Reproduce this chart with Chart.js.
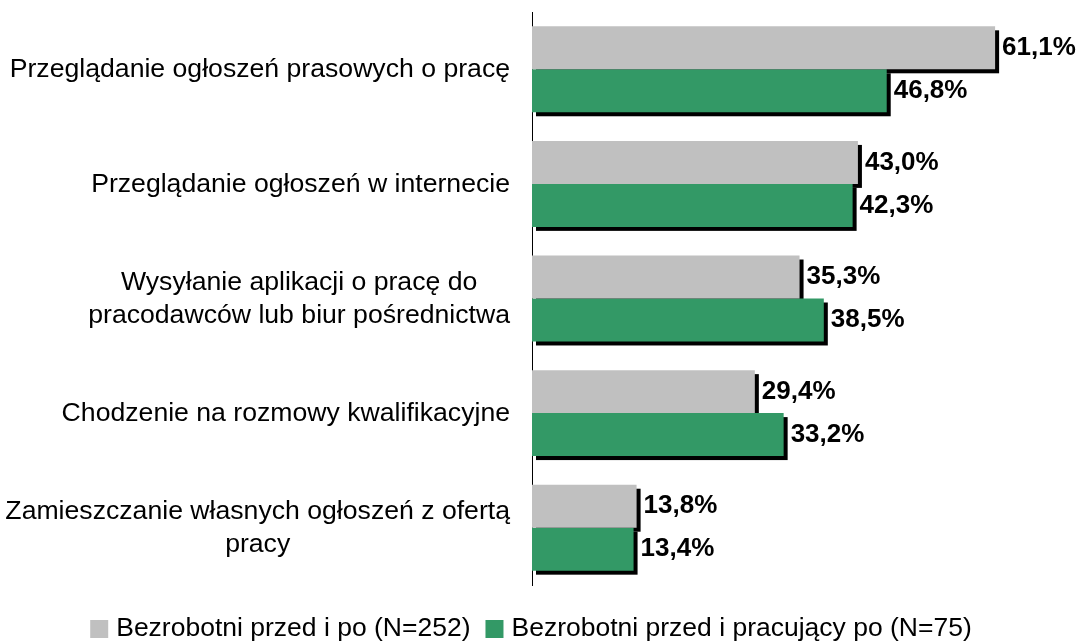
<!DOCTYPE html>
<html>
<head>
<meta charset="utf-8">
<script src="https://cdn.jsdelivr.net/npm/chart.js@4.4.1/dist/chart.umd.min.js"></script>
<style>
html,body{margin:0;padding:0;background:#fff;}
#wrap{width:1080px;height:643px;position:relative;}
</style>
</head>
<body>
<div id="wrap"><canvas id="c" width="1080" height="643"></canvas></div>
<script>
const categories = [
  ['Przeglądanie ogłoszeń prasowych o pracę'],
  ['Przeglądanie ogłoszeń w internecie'],
  ['Wysyłanie aplikacji o pracę do', 'pracodawców lub biur pośrednictwa'],
  ['Chodzenie na rozmowy kwalifikacyjne'],
  ['Zamieszczanie własnych ogłoszeń z ofertą', 'pracy']
];
const seriesNames = ['Bezrobotni przed i po (N=252)', 'Bezrobotni przed i pracujący po (N=75)'];
const unemployedBoth = [61.1, 43.0, 35.3, 29.4, 13.8];
const unemployedThenEmployed = [46.8, 42.3, 38.5, 33.2, 13.4];
const seriesColors = ['#c0c0c0', '#339966'];

const FONT = '"Liberation Sans", Arial, sans-serif';

// draw black drop shadows of all bars before the bars themselves
const shadowPlugin = {
  id: 'barShadow',
  beforeDatasetsDraw(chart) {
    const ctx = chart.ctx;
    ctx.save();
    ctx.fillStyle = '#000';
    chart.data.datasets.forEach((ds, di) => {
      chart.getDatasetMeta(di).data.forEach(bar => {
        const p = bar.getProps(['x', 'y', 'base', 'height'], true);
        const left = Math.min(p.base, p.x), w = Math.abs(p.x - p.base);
        ctx.fillRect(left + 4, p.y - p.height / 2 + 4, w, p.height);
      });
    });
    ctx.restore();
  }
};

function drawScaled(ctx, text, x, y, sx, align) {
  ctx.save();
  ctx.translate(x, y);
  ctx.scale(sx, 1);
  ctx.textAlign = align;
  ctx.fillText(text, 0, 0);
  ctx.restore();
}

const textPlugin = {
  id: 'texts',
  afterDraw(chart) {
    const ctx = chart.ctx;
    const yScale = chart.scales.y;
    ctx.save();
    ctx.fillStyle = '#000';
    ctx.textBaseline = 'middle';
    // category labels
    const SXL = 1.065;
    ctx.font = '25px ' + FONT;
    const rightX = chart.chartArea.left - 22;
    const lh = 33;
    categories.forEach((lines, i) => {
      const cy = yScale.getPixelForValue(i);
      const maxW = Math.max(...lines.map(l => ctx.measureText(l).width));
      lines.forEach((line, j) => {
        const y = cy + (j - (lines.length - 1) / 2) * lh + 1;
        if (lines.length === 1) drawScaled(ctx, line, rightX, y, SXL, 'right');
        else drawScaled(ctx, line, rightX - maxW * SXL / 2, y, SXL, 'center');
      });
    });
    // value labels
    ctx.font = 'bold 26px ' + FONT;
    chart.data.datasets.forEach((ds, di) => {
      chart.getDatasetMeta(di).data.forEach((bar, i) => {
        const txt = ds.data[i].toFixed(1).replace('.', ',') + '%';
        drawScaled(ctx, txt, bar.x + 7, bar.y, 1.0, 'left');
      });
    });
    // legend
    const SXG = 1.06;
    ctx.font = '25px ' + FONT;
    const box = 18, gapBox = 8, gapItem = 15;
    const widths = seriesNames.map(n => ctx.measureText(n).width * SXG);
    const total = widths.reduce((a, w) => a + box + gapBox + w, 0) + gapItem;
    let x = 531 - total / 2;
    const ly = 629;
    seriesNames.forEach((n, i) => {
      ctx.fillStyle = seriesColors[i];
      ctx.fillRect(x, ly - box / 2, box, box);
      x += box + gapBox;
      ctx.fillStyle = '#000';
      drawScaled(ctx, n, x, ly, SXG, 'left');
      x += widths[i] + gapItem;
    });
    ctx.restore();
  }
};

new Chart(document.getElementById('c'), {
  type: 'bar',
  data: {
    labels: categories,
    datasets: [
      { label: seriesNames[0], data: unemployedBoth, backgroundColor: seriesColors[0], borderWidth: 0 },
      { label: seriesNames[1], data: unemployedThenEmployed, backgroundColor: seriesColors[1], borderWidth: 0 }
    ]
  },
  options: {
    indexAxis: 'y',
    responsive: false,
    animation: false,
    devicePixelRatio: 1,
    layout: { padding: { top: 12, bottom: 58, left: 0, right: 0 } },
    datasets: { bar: { categoryPercentage: 0.75, barPercentage: 1 } },
    plugins: { legend: { display: false }, tooltip: { enabled: false } },
    scales: {
      x: { display: false, min: 0, max: 72.3 },
      y: {
        display: true,
        grid: { display: false, drawTicks: false },
        border: { display: true, color: '#000', width: 1 },
        ticks: { display: false },
        afterFit(scale) { scale.width = 532; }
      }
    }
  },
  plugins: [shadowPlugin, textPlugin]
});
</script>
</body>
</html>
